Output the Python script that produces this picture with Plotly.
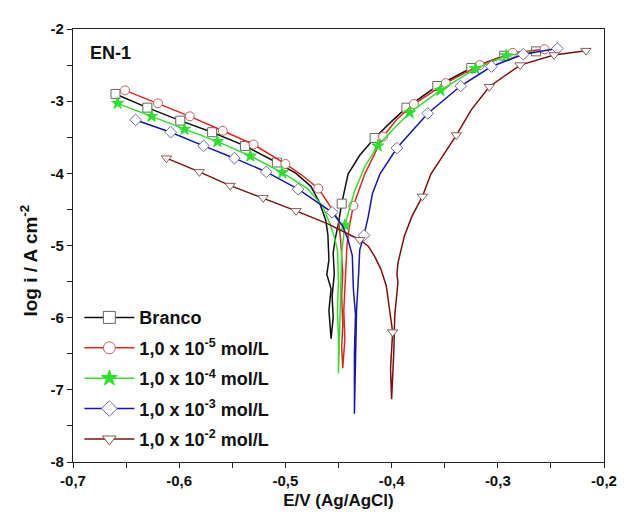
import plotly.graph_objects as go

# ---------------- data ----------------
series_names = ["Branco",
                "1,0 x 10<sup>-5</sup> mol/L",
                "1,0 x 10<sup>-4</sup> mol/L",
                "1,0 x 10<sup>-3</sup> mol/L",
                "1,0 x 10<sup>-2</sup> mol/L"]

# Branco (black)
branco_E = [-0.660, -0.630, -0.599, -0.569, -0.538, -0.508, -0.490, -0.476, -0.468, -0.462, -0.460,
            -0.459, -0.461, -0.457, -0.459, -0.458, -0.457, -0.455, -0.456, -0.454, -0.455, -0.453,
            -0.450, -0.447, -0.445, -0.441, -0.430, -0.416, -0.400, -0.386, -0.357, -0.325, -0.294, -0.263]
branco_logi = [-2.90, -3.09, -3.27, -3.43, -3.62, -3.85, -4.00, -4.18, -4.40, -4.65, -4.85,
               -5.20, -5.40, -5.60, -5.90, -6.10, -6.29, -6.00, -5.70, -5.40, -5.10, -4.90,
               -4.69, -4.42, -4.28, -4.01, -3.75, -3.51, -3.28, -3.09, -2.79, -2.54, -2.37, -2.32]
branco_mk_E = [-0.660, -0.630, -0.599, -0.569, -0.538, -0.508, -0.447, -0.416, -0.386, -0.357, -0.325, -0.294, -0.264]
branco_mk_logi = [-2.90, -3.09, -3.27, -3.43, -3.62, -3.85, -4.42, -3.51, -3.09, -2.79, -2.54, -2.37, -2.31]

# 1,0 x 10^-5 (red)
c5_E = [-0.651, -0.620, -0.590, -0.559, -0.530, -0.500, -0.485, -0.469, -0.458, -0.450, -0.448,
        -0.446, -0.447, -0.446, -0.447, -0.446, -0.444, -0.445, -0.443, -0.442, -0.440, -0.436,
        -0.425, -0.408, -0.395, -0.379, -0.349, -0.317, -0.286, -0.256]
c5_logi = [-2.85, -3.03, -3.21, -3.41, -3.60, -3.87, -4.02, -4.21, -4.45, -4.65, -4.92,
           -5.38, -5.70, -6.10, -6.40, -6.70, -6.30, -5.90, -5.40, -5.00, -4.75, -4.45,
           -4.00, -3.49, -3.25, -3.04, -2.75, -2.50, -2.33, -2.28]
c5_mk_E = [-0.651, -0.620, -0.590, -0.559, -0.530, -0.500, -0.469, -0.436, -0.408, -0.379, -0.349, -0.317, -0.286, -0.256]
c5_mk_logi = [-2.85, -3.03, -3.21, -3.41, -3.60, -3.87, -4.21, -4.45, -3.49, -3.04, -2.75, -2.50, -2.33, -2.28]

# 1,0 x 10^-4 (green)
c4_E = [-0.658, -0.626, -0.595, -0.564, -0.533, -0.503, -0.480, -0.465, -0.458, -0.454, -0.451,
        -0.450, -0.451, -0.450, -0.450, -0.449, -0.448, -0.447, -0.444, -0.435, -0.425, -0.413,
        -0.398, -0.383, -0.354, -0.321, -0.292, -0.265]
c4_logi = [-3.03, -3.21, -3.39, -3.56, -3.76, -3.99, -4.20, -4.45, -4.70, -4.88, -5.06,
           -5.51, -5.90, -6.30, -6.77, -6.20, -5.60, -5.10, -4.72, -4.25, -3.90, -3.62,
           -3.38, -3.16, -2.85, -2.55, -2.37, -2.31]
c4_mk_E = [-0.658, -0.626, -0.595, -0.564, -0.533, -0.503, -0.444, -0.413, -0.383, -0.354, -0.321, -0.292]
c4_mk_logi = [-3.03, -3.21, -3.39, -3.56, -3.76, -3.99, -4.72, -3.62, -3.16, -2.85, -2.55, -2.37]

# 1,0 x 10^-3 (blue)
c3_E = [-0.641, -0.608, -0.577, -0.548, -0.518, -0.488, -0.456, -0.446, -0.441, -0.437, -0.436,
        -0.434, -0.435, -0.435, -0.434, -0.433, -0.431, -0.430, -0.426, -0.422, -0.418, -0.411,
        -0.395, -0.366, -0.335, -0.306, -0.276, -0.244]
c3_logi = [-3.26, -3.43, -3.62, -3.79, -3.98, -4.22, -4.54, -4.73, -4.92, -5.14, -5.60,
           -5.96, -6.50, -7.33, -6.60, -5.90, -5.38, -5.06, -4.86, -4.60, -4.28, -4.01,
           -3.65, -3.17, -2.79, -2.52, -2.35, -2.27]
c3_mk_E = [-0.641, -0.608, -0.577, -0.548, -0.518, -0.488, -0.456, -0.426, -0.395, -0.366, -0.335, -0.306, -0.276, -0.244]
c3_mk_logi = [-3.26, -3.43, -3.62, -3.79, -3.98, -4.22, -4.54, -4.86, -3.65, -3.17, -2.79, -2.52, -2.35, -2.27]

# 1,0 x 10^-2 (brown)
c2_E = [-0.612, -0.581, -0.552, -0.521, -0.490, -0.460, -0.430, -0.422, -0.416, -0.410, -0.405,
        -0.402, -0.399, -0.401, -0.400, -0.398, -0.397, -0.394, -0.395, -0.394, -0.388, -0.381,
        -0.371, -0.363, -0.350, -0.339, -0.325, -0.308, -0.279, -0.247, -0.217]
c2_logi = [-3.79, -3.98, -4.17, -4.34, -4.52, -4.70, -4.92, -5.01, -5.15, -5.33, -5.56,
           -5.88, -6.20, -6.70, -7.13, -6.50, -5.96, -5.51, -5.40, -5.24, -4.87, -4.60,
           -4.32, -4.01, -3.72, -3.47, -3.12, -2.80, -2.50, -2.36, -2.30]
c2_mk_E = [-0.612, -0.581, -0.552, -0.521, -0.490, -0.430, -0.399, -0.371, -0.339, -0.308, -0.279, -0.247, -0.217]
c2_mk_logi = [-3.79, -3.98, -4.17, -4.34, -4.52, -4.92, -6.20, -4.32, -3.47, -2.80, -2.50, -2.36, -2.30]

x_ticks = [-0.7, -0.6, -0.5, -0.4, -0.3, -0.2]
x_ticktext = ["-0,7", "-0,6", "-0,5", "-0,4", "-0,3", "-0,2"]
y_ticks = [-8, -7, -6, -5, -4, -3, -2]
y_ticktext = ["-8", "-7", "-6", "-5", "-4", "-3", "-2"]

# ---------------- styles ----------------
FONT = "Liberation Sans, Arial"
styles = [
    dict(color="#111111", mk_line="#666666", symbol="square", fill="white"),
    dict(color="#e3261c", mk_line="#c06060", symbol="circle", fill="white"),
    dict(color="#2ee02e", mk_line="#2ee02e", symbol="star", fill="#2ee02e"),
    dict(color="#1616b0", mk_line="#6a6ab0", symbol="diamond", fill="white"),
    dict(color="#7a1010", mk_line="#8a5a5a", symbol="triangle-down", fill="white"),
]

data = [
    (branco_E, branco_logi, branco_mk_E, branco_mk_logi),
    (c5_E, c5_logi, c5_mk_E, c5_mk_logi),
    (c4_E, c4_logi, c4_mk_E, c4_mk_logi),
    (c3_E, c3_logi, c3_mk_E, c3_mk_logi),
    (c2_E, c2_logi, c2_mk_E, c2_mk_logi),
]

fig = go.Figure()
for i, (name, st, (E, L, mE, mL)) in enumerate(zip(series_names, styles, data)):
    fig.add_trace(go.Scatter(x=E, y=L, mode="lines", line=dict(color=st["color"], width=1.5),
                             showlegend=False, legendgroup=f"g{i}", hoverinfo="skip"))
    fig.add_trace(go.Scatter(x=mE, y=mL, mode="markers", showlegend=False, legendgroup=f"g{i}",
                             marker=dict(symbol=st["symbol"], size=9, color=st["fill"],
                                         line=dict(color=st["mk_line"], width=1))))
    fig.add_trace(go.Scatter(x=[None], y=[None], mode="lines+markers",
                             name="<b>" + name + "</b>",
                             legendgroup=f"g{i}",
                             line=dict(color=st["color"], width=1.5),
                             marker=dict(symbol=st["symbol"], size=12, color=st["fill"],
                                         line=dict(color=st["mk_line"], width=1))))

axis_common = dict(showline=True, linecolor="#222222", linewidth=1.2, mirror=True,
                   ticks="outside", ticklen=5, tickwidth=1.2, tickcolor="#222222",
                   showgrid=False, zeroline=False,
                   tickfont=dict(family=FONT, size=15, color="#111111", weight="bold"))

fig.update_xaxes(range=[-0.7, -0.2], tickvals=x_ticks, ticktext=x_ticktext,
                 minor=dict(dtick=0.05, ticks="outside", ticklen=5, tickcolor="#222222", tickwidth=1.2),
                 title=dict(text="<b>E/V (Ag/AgCl)</b>", standoff=6,
                            font=dict(family=FONT, size=17, color="#111111")),
                 **axis_common)
fig.update_yaxes(range=[-8, -2], tickvals=y_ticks, ticktext=y_ticktext,
                 minor=dict(dtick=0.5, ticks="outside", ticklen=5, tickcolor="#222222", tickwidth=1.2),
                 **axis_common)

# y-axis title placed as a rotated annotation
fig.add_annotation(x=-0.083, y=0.465, xref="paper", yref="paper",
                   text="<b>log i / A cm<sup>-2</sup></b>", showarrow=False, textangle=-90,
                   xanchor="center", yanchor="middle",
                   font=dict(family=FONT, size=19, color="#111111"))

fig.add_annotation(x=-0.686, y=-2.33, xref="x", yref="y", text="<b>EN-1</b>", showarrow=False,
                   xanchor="left", yanchor="middle",
                   font=dict(family=FONT, size=18, color="#111111"))

# page body has an 8px default margin, so the figure is shrunk by 8px to keep the plot area in place
fig.update_layout(
    width=621, height=512,
    margin=dict(l=65, r=16, t=15, b=58),
    paper_bgcolor="white", plot_bgcolor="white",
    showlegend=True,
    legend=dict(x=0.012, y=0.376, xanchor="left", yanchor="top", bgcolor="rgba(0,0,0,0)",
                tracegroupgap=4, itemwidth=50,
                font=dict(family=FONT, size=18, color="#111111")),
)

fig.write_html("out.html")
